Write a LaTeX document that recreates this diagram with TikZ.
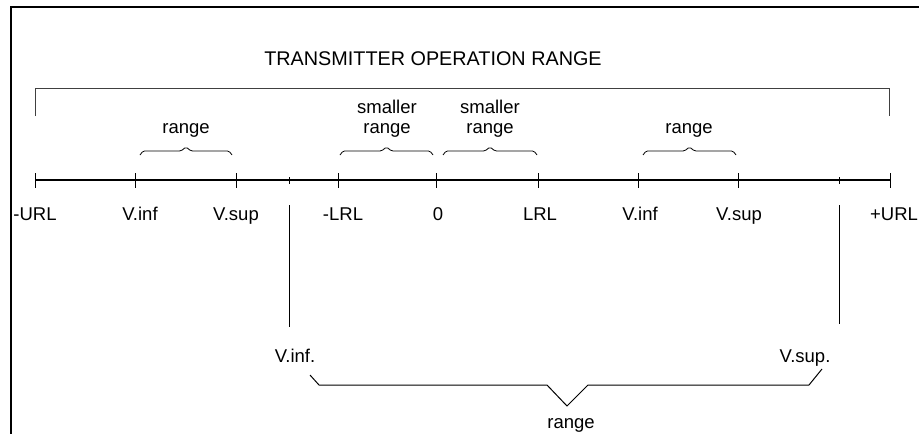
\documentclass[tikz,border=0pt]{standalone}
\usepackage{fontspec}
\setmainfont{Liberation Sans}
\begin{document}
\begin{tikzpicture}[x=1pt,y=-1pt,
  lbl/.style={inner sep=0pt, anchor=base, font=\fontsize{18.5}{20}\selectfont},
  ttl/.style={inner sep=0pt, anchor=base, font=\fontsize{19.8}{22}\selectfont},
  frameline/.style={line width=2.5pt, line cap=rect},
  axisline/.style={line width=2pt},
  majortick/.style={line width=1pt},
  minortick/.style={line width=1pt},
  thinline/.style={line width=1pt},
  bracket/.style={line width=1pt, draw=black!75},
  smallbrace/.style={line width=0.8pt, rounded corners=1.5pt}]
\useasboundingbox (0,0) rectangle (919,434);
% frame (clipped at right and bottom)
\coordinate (fTR) at (919,7);
\coordinate (fTL) at (11,7);
\coordinate (fBL) at (11,434);
\draw[frameline] (fTR) -- (fTL) -- (fBL);
% title
\node[ttl] (title) at (433,65) {TRANSMITTER OPERATION RANGE};
% big top bracket
\coordinate (bL) at (35,116);
\coordinate (bR) at (889,116);
\draw[bracket] (bL) -- (35,88) -- (889,88) -- (bR);
% axis ticks
\foreach \n/\x in {t1/35,t2/135,t3/236,t5/338,t6/436,t7/538,t8/638,t9/738,t11/890}{
  \coordinate (\n) at (\x,180);
  \draw[majortick] (\x,173) -- (\x,188);
}
\foreach \n/\x in {t4/289,t10/839}{
  \coordinate (\n) at (\x,180);
  \draw[minortick] (\x,177) -- (\x,184);
}
\draw[axisline] (t1) -- (t11);
% axis labels
\node[lbl] (l1) at (35,220) {-URL};
\node[lbl] (l2) at (140,220) {V.inf};
\node[lbl] (l3) at (236,220) {V.sup};
\node[lbl] (l5) at (343,220) {-LRL};
\node[lbl] (l6) at (438,220) {0};
\node[lbl] (l7) at (540,220) {LRL};
\node[lbl] (l8) at (640,220) {V.inf};
\node[lbl] (l9) at (739,220) {V.sup};
\node[lbl] (l11) at (894,220) {+URL};
% small braces
\foreach \a/\b in {140/232,340/433,443/537,643/736}{
  \pgfmathsetmacro{\m}{(\a+\b)/2}
  \draw[smallbrace] (\a,155) -- (\a+3,151) -- (\m-5,151) -- (\m,147) -- (\m+5,151) -- (\b-3,151) -- (\b,155);
}
\node[lbl] (r1) at (186,133) {range};
\node[lbl] (s1) at (387,113) {smaller};
\node[lbl] (r2) at (387,133) {range};
\node[lbl] (s2) at (490,113) {smaller};
\node[lbl] (r3) at (490,133) {range};
\node[lbl] (r4) at (689,133) {range};
% drop lines
\coordinate (d1) at (289,327);
\coordinate (d2) at (839,324);
\draw[thinline] (289,205) -- (d1);
\draw[thinline] (839,205) -- (d2);
\node[lbl] (vinf) at (295,362) {V.inf.};
\node[lbl] (vsup) at (805,362) {V.sup.};
% bottom brace
\draw[thinline] (310,375) -- (319,385) -- (547,385) -- (567,406) -- (588,385) -- (809,385) -- (822,369);
\node[lbl] (rb) at (571,428) {range};
\end{tikzpicture}
\end{document}
